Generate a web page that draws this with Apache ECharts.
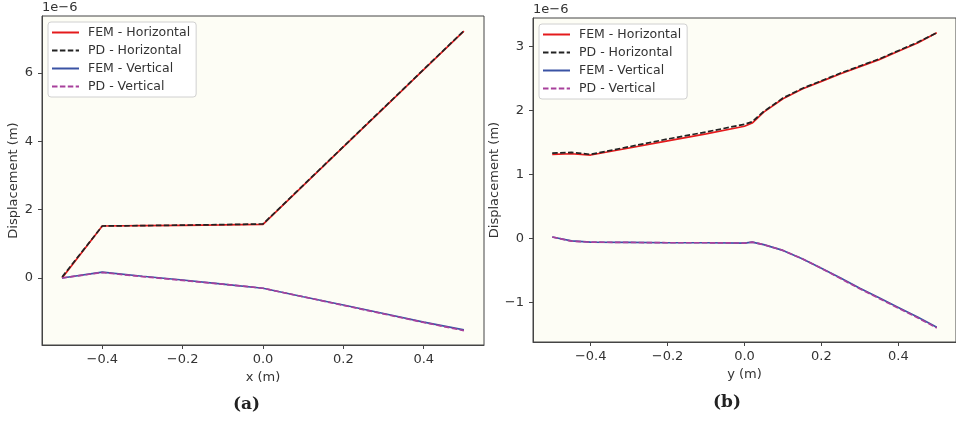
<!DOCTYPE html>
<html>
<head>
<meta charset="utf-8">
<script src="https://cdn.jsdelivr.net/npm/echarts@6/dist/echarts.min.js"></script>
<style>html,body{margin:0;padding:0;background:#fff;}#c{width:956px;height:423px;}</style>
</head>
<body>
<div id="c"></div>
<script>
// ---- data (values in units of 1e-6 m) ----
var xA = [-0.5, -0.4, -0.3, -0.2, -0.1, 0.0, 0.1, 0.2, 0.3, 0.4, 0.5];
var femH_A = [0.0, 1.52, 1.53, 1.54, 1.55, 1.57, 2.70, 3.83, 4.96, 6.09, 7.22];
var pdH_A  = [0.03, 1.52, 1.53, 1.545, 1.56, 1.58, 2.71, 3.84, 4.97, 6.10, 7.23];
var femV_A = [0.0, 0.17, 0.05, -0.06, -0.18, -0.30, -0.55, -0.79, -1.04, -1.29, -1.52];
var pdV_A  = [0.0, 0.16, 0.04, -0.07, -0.18, -0.30, -0.55, -0.80, -1.05, -1.30, -1.54];

var xB = [-0.5, -0.45, -0.4, -0.3, -0.2, -0.1, 0.0, 0.02, 0.05, 0.1, 0.15, 0.2, 0.25, 0.3, 0.35, 0.4, 0.45, 0.5];
var femH_B = [1.31, 1.32, 1.30, 1.41, 1.52, 1.63, 1.75, 1.80, 1.97, 2.18, 2.33, 2.45, 2.57, 2.68, 2.79, 2.92, 3.05, 3.21];
var pdH_B  = [1.33, 1.34, 1.31, 1.43, 1.55, 1.66, 1.78, 1.82, 1.98, 2.19, 2.34, 2.46, 2.58, 2.69, 2.80, 2.93, 3.06, 3.21];
var femV_B = [0.02, -0.04, -0.06, -0.065, -0.07, -0.07, -0.075, -0.06, -0.10, -0.19, -0.32, -0.47, -0.62, -0.78, -0.93, -1.08, -1.23, -1.39];
var pdV_B  = [0.02, -0.045, -0.06, -0.065, -0.07, -0.07, -0.075, -0.06, -0.10, -0.19, -0.32, -0.47, -0.63, -0.79, -0.94, -1.09, -1.24, -1.40];

var xTicks = [-0.4, -0.2, 0.0, 0.2, 0.4];
var yTicksA = [0, 2, 4, 6];
var yTicksB = [-1, 0, 1, 2, 3];
var names = ['FEM - Horizontal', 'PD - Horizontal', 'FEM - Vertical', 'PD - Vertical'];

function pairs(xs, ys) { return xs.map(function (x, i) { return [x, ys[i]]; }); }
function fmt1(v) { return (v < 0 ? '\u2212' : '') + Math.abs(v).toFixed(1); }
function fmt0(v) { return (v < 0 ? '\u2212' : '') + Math.abs(Math.round(v)); }

var FONT = 'DejaVu Sans';
var TXT = '#333';
var AX = '#444';
var FS = 13;
var colors = ['#e41a1c', '#222222', '#3a53a4', '#a8409c'];
var types = ['solid', [5.5, 2.4], 'solid', [5.5, 2.4]];

function xAxis(idx, name) {
  return {
    type: 'value', gridIndex: idx, min: -0.55, max: 0.55,
    name: name, nameLocation: 'middle', nameGap: 24,
    nameTextStyle: { fontFamily: FONT, fontSize: FS, color: TXT },
    axisLine: { show: true, onZero: false, lineStyle: { color: AX, width: 1 } },
    axisTick: { show: true, length: 4, customValues: xTicks, lineStyle: { color: AX } },
    axisLabel: { customValues: xTicks, formatter: fmt1, margin: 8, fontFamily: FONT, fontSize: FS, color: TXT },
    splitLine: { show: false }
  };
}
function yAxis(idx, min, max, ticks, gap) {
  return {
    type: 'value', gridIndex: idx, min: min, max: max,
    name: 'Displacement (m)', nameLocation: 'middle', nameGap: gap,
    nameTextStyle: { fontFamily: FONT, fontSize: FS, color: TXT },
    axisLine: { show: true, onZero: false, lineStyle: { color: AX, width: 1 } },
    axisTick: { show: true, length: 4, customValues: ticks, lineStyle: { color: AX } },
    axisLabel: { customValues: ticks, formatter: fmt0, margin: 9, fontFamily: FONT, fontSize: FS, color: TXT },
    splitLine: { show: false }
  };
}
function series(idx, k, xs, ys) {
  return {
    name: names[k], type: 'line', xAxisIndex: idx, yAxisIndex: idx,
    data: pairs(xs, ys), showSymbol: false, symbol: 'none', animation: false,
    lineStyle: { color: colors[k], width: 1.7, type: types[k] },
    itemStyle: { color: colors[k] }, z: 2 + k
  };
}
function legend(left, top) {
  return {
    data: names, orient: 'vertical', left: left, top: top,
    backgroundColor: '#ffffff', borderColor: '#d0d0d0', borderWidth: 1, borderRadius: 3,
    padding: [4, 6, 4, 3], itemWidth: 27, itemHeight: 14, itemGap: 5,
    itemStyle: { opacity: 0 },
    textStyle: { fontFamily: FONT, fontSize: 12.5, color: TXT, padding: [0, 0, 0, 4] },
    selectedMode: false
  };
}

var chart = echarts.init(document.getElementById('c'), null, { renderer: 'canvas' });
chart.setOption({
  animation: false,
  backgroundColor: '#ffffff',
  grid: [
    { left: 42, top: 16, width: 442, height: 329, show: true, backgroundColor: '#fdfdf5', borderColor: AX, borderWidth: 1 },
    { left: 533, top: 18, width: 433, height: 324, show: true, backgroundColor: '#fdfdf5', borderColor: AX, borderWidth: 1 }
  ],
  xAxis: [xAxis(0, 'x (m)'), xAxis(1, 'y (m)')],
  yAxis: [yAxis(0, -1.96, 7.66, yTicksA, 21.5), yAxis(1, -1.62, 3.44, yTicksB, 31.5)],
  legend: [legend(48, 22), legend(539, 24)],
  series: [
    series(0, 0, xA, femH_A), series(0, 1, xA, pdH_A), series(0, 2, xA, femV_A), series(0, 3, xA, pdV_A),
    series(1, 0, xB, femH_B), series(1, 1, xB, pdH_B), series(1, 2, xB, femV_B), series(1, 3, xB, pdV_B)
  ],
  graphic: [
    { type: 'text', left: 42, top: 1, style: { text: '1e\u22126', fontFamily: FONT, fontSize: FS, fill: TXT } },
    { type: 'text', left: 533, top: 3, style: { text: '1e\u22126', fontFamily: FONT, fontSize: FS, fill: TXT } },
    { type: 'text', left: 233, top: 396, style: { text: '(a)', fontFamily: 'DejaVu Serif', fontWeight: 'bold', fontSize: 17, fill: '#222' } },
    { type: 'text', left: 713, top: 394, style: { text: '(b)', fontFamily: 'DejaVu Serif', fontWeight: 'bold', fontSize: 17, fill: '#222' } }
  ]
});
</script>
</body>
</html>
